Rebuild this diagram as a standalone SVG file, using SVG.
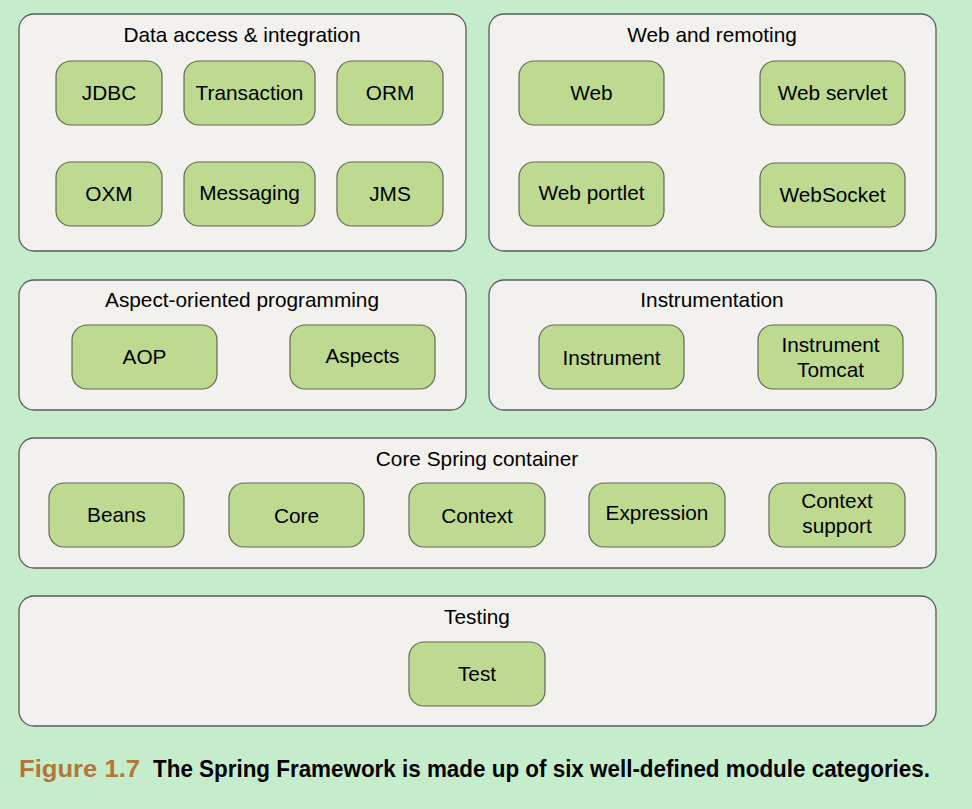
<svg xmlns="http://www.w3.org/2000/svg" width="972" height="809" viewBox="0 0 972 809">
<style>
.panel{fill:#F3F1ED;stroke:#5A5A5A;stroke-width:1.3}
.mod{fill:#BEDA91;stroke:#5F6A55;stroke-width:1.2}
.t{font-family:"Liberation Sans",Arial,sans-serif;font-size:20.8px;fill:#000;text-anchor:middle}
.cap{font-family:"Liberation Sans",Arial,sans-serif;font-size:23px;font-weight:bold}
</style>
<rect width="972" height="809" fill="#C6EDCB"/>
<g id="data-access">
<rect class="panel" x="19" y="14" width="447" height="237" rx="15"/>
<text class="t" x="242" y="42">Data access &amp; integration</text>
</g>
<g id="jdbc"><rect class="mod" x="56" y="61" width="106" height="64" rx="15"/><text class="t" x="109" y="100">JDBC</text></g>
<g id="transaction"><rect class="mod" x="184" y="61" width="131" height="64" rx="15"/><text class="t" x="249.5" y="100">Transaction</text></g>
<g id="orm"><rect class="mod" x="337" y="61" width="106" height="64" rx="15"/><text class="t" x="390" y="100">ORM</text></g>
<g id="oxm"><rect class="mod" x="56" y="162" width="106" height="64" rx="15"/><text class="t" x="109" y="201">OXM</text></g>
<g id="messaging"><rect class="mod" x="184" y="162" width="131" height="64" rx="15"/><text class="t" x="249.5" y="200">Messaging</text></g>
<g id="jms"><rect class="mod" x="337" y="162" width="106" height="64" rx="15"/><text class="t" x="390" y="201">JMS</text></g>

<g id="web-remoting">
<rect class="panel" x="489" y="14" width="447" height="237" rx="15"/>
<text class="t" x="712" y="42">Web and remoting</text>
</g>
<g id="web"><rect class="mod" x="519" y="61" width="145" height="64" rx="15"/><text class="t" x="591.5" y="100">Web</text></g>
<g id="web-servlet"><rect class="mod" x="760" y="61" width="145" height="64" rx="15"/><text class="t" x="832.5" y="100">Web servlet</text></g>
<g id="web-portlet"><rect class="mod" x="519" y="162" width="145" height="64" rx="15"/><text class="t" x="591.5" y="200">Web portlet</text></g>
<g id="websocket"><rect class="mod" x="760" y="163" width="145" height="64" rx="15"/><text class="t" x="832.5" y="202">WebSocket</text></g>

<g id="aop-panel">
<rect class="panel" x="19" y="280" width="447" height="130" rx="15"/>
<text class="t" x="242" y="307">Aspect-oriented programming</text>
</g>
<g id="aop"><rect class="mod" x="72" y="325" width="145" height="64" rx="15"/><text class="t" x="144.5" y="364">AOP</text></g>
<g id="aspects"><rect class="mod" x="290" y="325" width="145" height="64" rx="15"/><text class="t" x="362.5" y="363">Aspects</text></g>

<g id="instrumentation">
<rect class="panel" x="489" y="280" width="447" height="130" rx="15"/>
<text class="t" x="712" y="307">Instrumentation</text>
</g>
<g id="instrument"><rect class="mod" x="539" y="325" width="145" height="64" rx="15"/><text class="t" x="611.5" y="365">Instrument</text></g>
<g id="instrument-tomcat"><rect class="mod" x="758" y="325" width="145" height="64" rx="15"/><text class="t" x="830.5" y="352">Instrument</text><text class="t" x="830.5" y="377">Tomcat</text></g>

<g id="core-container">
<rect class="panel" x="19" y="438" width="917" height="130" rx="15"/>
<text class="t" x="477" y="466">Core Spring container</text>
</g>
<g id="beans"><rect class="mod" x="49" y="483" width="135" height="64" rx="15"/><text class="t" x="116.5" y="522">Beans</text></g>
<g id="core"><rect class="mod" x="229" y="483" width="135" height="64" rx="15"/><text class="t" x="296.5" y="523">Core</text></g>
<g id="context"><rect class="mod" x="409" y="483" width="136" height="64" rx="15"/><text class="t" x="477" y="523">Context</text></g>
<g id="expression"><rect class="mod" x="589" y="483" width="136" height="64" rx="15"/><text class="t" x="657" y="520">Expression</text></g>
<g id="context-support"><rect class="mod" x="769" y="483" width="136" height="64" rx="15"/><text class="t" x="837" y="508">Context</text><text class="t" x="837" y="533">support</text></g>

<g id="testing">
<rect class="panel" x="19" y="596" width="917" height="130" rx="15"/>
<text class="t" x="477" y="624">Testing</text>
</g>
<g id="test"><rect class="mod" x="409" y="642" width="136" height="64" rx="15"/><text class="t" x="477" y="681">Test</text></g>

<g id="connectors"></g>

<text class="cap" x="19" y="777" fill="#B5743A" textLength="121" lengthAdjust="spacingAndGlyphs">Figure 1.7</text>
<text class="cap" x="153" y="777" fill="#000" textLength="777" lengthAdjust="spacingAndGlyphs">The Spring Framework is made up of six well-defined module categories.</text>
</svg>
